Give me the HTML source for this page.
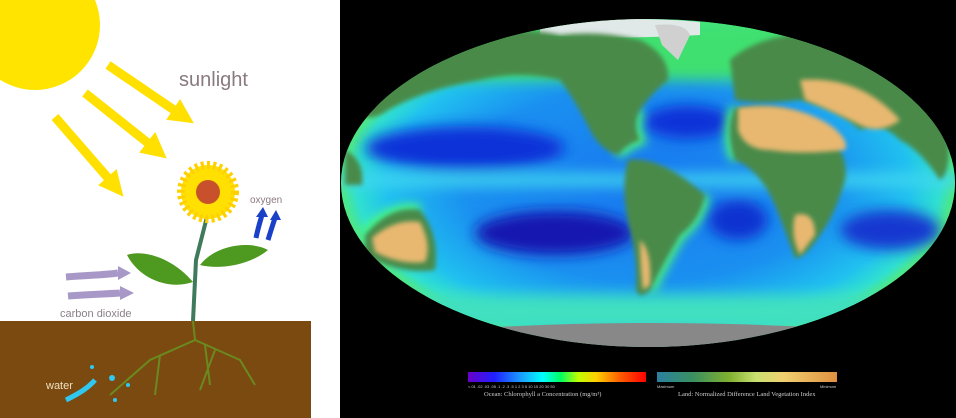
<!DOCTYPE html>
<html><head><meta charset="utf-8"><style>
html,body{margin:0;padding:0;background:#fff;}
svg{display:block;font-family:"Liberation Sans",sans-serif;}
</style></head><body>
<svg width="956" height="418" viewBox="0 0 956 418">
<defs>
<radialGradient id="ocean" cx="0.5" cy="0.5" r="0.5">
<stop offset="0" stop-color="#1878f0"/><stop offset="0.6" stop-color="#1a90f0"/><stop offset="0.85" stop-color="#20c0f0"/><stop offset="0.95" stop-color="#30e0d0"/><stop offset="1" stop-color="#50e880"/>
</radialGradient>
<linearGradient id="chl" x1="0" x2="1">
<stop offset="0" stop-color="#6a00c8"/><stop offset="0.15" stop-color="#2020ff"/><stop offset="0.3" stop-color="#1aa0ff"/><stop offset="0.42" stop-color="#00ffff"/><stop offset="0.52" stop-color="#00ff60"/><stop offset="0.62" stop-color="#c0ff00"/><stop offset="0.72" stop-color="#ffd000"/><stop offset="0.85" stop-color="#ff6000"/><stop offset="1" stop-color="#ff0000"/>
</linearGradient>
<linearGradient id="ndvi" x1="1" x2="0">
<stop offset="0" stop-color="#e09040"/><stop offset="0.3" stop-color="#f0d070"/><stop offset="0.45" stop-color="#c8e070"/><stop offset="0.6" stop-color="#80b030"/><stop offset="0.8" stop-color="#3a9060"/><stop offset="1" stop-color="#2a80a0"/>
</linearGradient>
<filter id="blur" x="-20%" y="-20%" width="140%" height="140%"><feGaussianBlur stdDeviation="7"/></filter>
<filter id="blur2"><feGaussianBlur stdDeviation="2.5"/></filter>
<filter id="blur3" x="-20%" y="-20%" width="140%" height="140%"><feGaussianBlur stdDeviation="5"/></filter>
<clipPath id="globe"><ellipse cx="648" cy="183" rx="307" ry="164"/></clipPath>
</defs>
<!-- left panel -->
<g>
<rect x="0" y="0" width="340" height="418" fill="#fff"/>
<circle cx="35" cy="25" r="65" fill="#ffe400"/>
<g fill="#ffe000" stroke="#ffe000">
<line x1="108" y1="65" x2="174" y2="110" stroke-width="9"/><polygon points="192,122 168,119 180,101" stroke-width="2"/>
<line x1="85" y1="93" x2="148" y2="143" stroke-width="9"/><polygon points="165,157 141,152 155,134" stroke-width="2"/>
<line x1="55" y1="117" x2="108" y2="178" stroke-width="9"/><polygon points="122,195 100,185 116,171" stroke-width="2"/>
</g>
<text x="179" y="86" font-size="20" fill="#887a80">sunlight</text>
<rect x="0" y="321" width="311" height="97" fill="#7a4a10"/>
<g stroke="#6a8a20" stroke-width="2" fill="none">
<path d="M193 321 L195 340 L150 360 L110 395"/><path d="M195 340 L240 360 L255 385"/><path d="M160 355 L155 395"/><path d="M205 345 L210 385"/><path d="M215 350 L200 390"/>
</g>
<path d="M193 321 L196 260 L210 205" stroke="#3f7a5a" stroke-width="4" fill="none"/>
<path d="M193 282 C170 255 140 250 127 255 C140 280 170 290 193 282Z" fill="#4e9a20"/>
<path d="M200 265 C215 245 250 240 268 250 C250 265 220 270 200 265Z" fill="#4e9a20"/>
<g>
<circle cx="208" cy="192" r="27" fill="#ffe000" stroke="#ffd000" stroke-dasharray="3 3" stroke-width="8"/>
<circle cx="208" cy="192" r="12" fill="#c8502a"/>
</g>
<text x="250" y="203" font-size="10" fill="#8a7a80">oxygen</text>
<g stroke="#1a40c8" stroke-width="5" fill="none">
<path d="M256 238 C258 228 260 222 262 215"/><path d="M268 240 C271 230 273 224 275 218"/>
</g>
<g fill="#1a40c8"><polygon points="256,217 268,217 263,207"/><polygon points="270,220 281,220 276,210"/></g>
<g stroke="#a898c8" stroke-width="7" fill="none">
<path d="M66 277 C90 275 105 275 118 273"/><path d="M68 296 C92 294 108 294 120 293"/>
</g>
<g fill="#a898c8"><polygon points="118,266 131,273 118,280"/><polygon points="120,286 134,293 120,300"/></g>
<text x="60" y="317" font-size="11" fill="#8a8088">carbon dioxide</text>
<text x="46" y="389" font-size="11" fill="#f0e0c0">water</text>
<path d="M66 400 C80 393 88 388 95 380" stroke="#30c8f0" stroke-width="5" fill="none"/>
<g fill="#30c8f0"><circle cx="112" cy="378" r="3"/><circle cx="92" cy="367" r="2"/><circle cx="115" cy="400" r="2"/><circle cx="128" cy="385" r="2"/></g>
</g>
<!-- right panel -->
<g>
<rect x="340" y="0" width="616" height="418" fill="#000"/>
<ellipse cx="648" cy="183" rx="307" ry="164" fill="url(#ocean)"/>
<g clip-path="url(#globe)">
<g filter="url(#blur)">
<rect x="340" y="174" width="620" height="12" fill="#40d8f0"/>
<ellipse cx="465" cy="148" rx="100" ry="22" fill="#1030d8"/>
<ellipse cx="555" cy="233" rx="80" ry="22" fill="#1818b0"/>
<ellipse cx="688" cy="122" rx="45" ry="17" fill="#1030d8"/>
<ellipse cx="738" cy="220" rx="30" ry="20" fill="#1030d0"/>
<ellipse cx="890" cy="230" rx="50" ry="20" fill="#1838d0"/>
<rect x="340" y="20" width="620" height="60" fill="#40e070"/>
<rect x="340" y="295" width="620" height="35" fill="#40e0c0"/>
</g>
<g filter="url(#blur3)" stroke="#50ff70" stroke-width="10" fill="none">
<path d="M640 110 Q632 125 640 140 Q625 145 618 155"/>
<path d="M705 195 Q700 220 680 235 Q665 260 650 290"/>
<path d="M735 108 Q725 130 735 160"/>
<path d="M365 235 Q390 205 420 210"/>
</g>
<path d="M480 328 Q648 318 830 328 L830 360 L480 360Z" fill="#888"/>
<path d="M540 22 Q640 16 700 22 L700 35 Q620 40 540 35Z" fill="#e0e8e8"/>
<path d="M655 25 Q685 22 690 35 L678 60 L662 45Z" fill="#d0d0d0"/>
<g fill="#4a8a4a" filter="url(#blur2)">
<path d="M350 90 Q380 45 440 35 Q520 25 560 35 Q600 30 640 40 Q670 55 668 80 Q650 95 640 110 Q632 125 640 140 Q625 145 618 155 Q600 150 590 130 Q575 100 560 80 Q520 70 480 80 Q420 90 380 115 Q355 125 350 90Z"/>
<path d="M628 160 Q660 155 705 195 Q700 220 680 235 Q665 260 650 290 Q640 300 636 290 Q638 260 630 230 Q620 190 628 160Z"/>
<path d="M730 60 Q770 25 860 35 Q920 50 945 110 Q955 170 940 180 Q920 150 900 140 Q880 120 860 130 Q840 110 800 100 Q760 105 735 100 Z"/>
<path d="M735 108 Q790 100 820 130 Q850 150 845 180 Q835 215 820 235 Q805 258 795 258 Q785 230 775 205 Q760 170 735 160 Q725 130 735 108Z"/>
<path d="M365 235 Q390 205 420 210 Q440 235 435 270 Q400 275 365 255Z"/>
<path d="M345 150 Q365 160 362 185 L345 185Z"/>
</g>
<g fill="#e8b870" filter="url(#blur2)">
<path d="M738 108 Q790 100 830 125 Q850 140 845 150 Q800 155 770 150 Q745 150 738 130Z"/>
<path d="M800 80 Q860 75 900 120 Q880 135 860 125 Q830 110 805 100Z"/>
<path d="M372 238 Q395 218 420 222 Q432 245 425 262 Q400 265 375 252Z"/>
<path d="M795 215 Q815 210 815 235 L800 255 Q790 235 795 215Z"/>
<path d="M640 240 Q652 250 650 285 L643 290 Q640 265 640 240Z"/>
</g>
</g>
<rect x="468" y="372" width="178" height="10" fill="url(#chl)"/>
<rect x="657" y="372" width="180" height="10" fill="url(#ndvi)"/>
<text x="468" y="388" font-size="4" fill="#ccc">&lt;.01 .02 .03 .05 .1 .2 .3 .5 1 2 3 5 10 15 20 30 50</text>
<text x="484" y="396" font-size="6.5" fill="#ccc" font-family="Liberation Serif,serif">Ocean:  Chlorophyll a Concentration (mg/m³)</text>
<text x="657" y="388" font-size="4" fill="#ccc">Maximum</text>
<text x="820" y="388" font-size="4" fill="#ccc">Minimum</text>
<text x="678" y="396" font-size="6.5" fill="#ccc" font-family="Liberation Serif,serif">Land:  Normalized Difference Land Vegetation Index</text>
</g>
</svg>
</body></html>
